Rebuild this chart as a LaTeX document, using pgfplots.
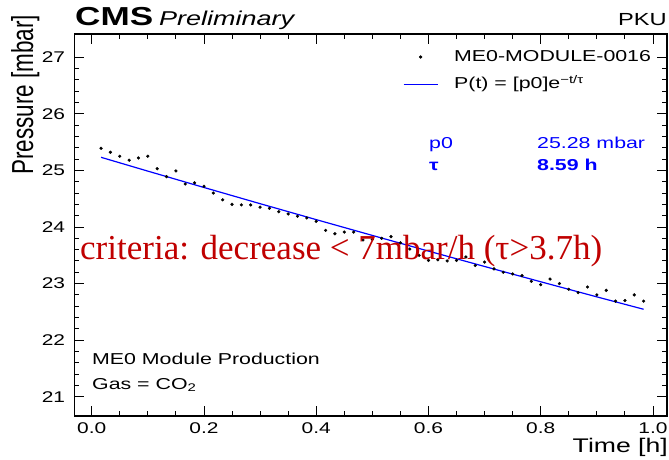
\documentclass[border=0pt]{standalone}
\usepackage{pgfplots}
\pgfplotsset{compat=1.18}
\usepackage{pgfplotstable}
\usepackage{fontspec}
\setmainfont{Liberation Sans}
\newfontfamily\serifred{Liberation Serif}
\usepackage{graphicx}
\definecolor{rootblue}{RGB}{0,0,255}
\definecolor{pptred}{RGB}{192,0,0}
\newcommand\fs[1]{\fontsize{#1pt}{#1pt}\selectfont}
\newcommand\sx[1]{\scalebox{1.35}[1]{#1}}

\pgfplotstableread{
t p
0.0167 25.39
0.0333 25.32
0.0500 25.25
0.0667 25.18
0.0833 25.22
0.1000 25.25
0.1167 25.03
0.1333 24.89
0.1500 24.99
0.1667 24.76
0.1833 24.78
0.2000 24.72
0.2167 24.60
0.2333 24.48
0.2500 24.40
0.2667 24.39
0.2833 24.39
0.3000 24.35
0.3167 24.33
0.3333 24.27
0.3500 24.23
0.3667 24.19
0.3833 24.16
0.4000 24.10
0.4167 23.94
0.4333 23.88
0.4500 23.91
0.4667 23.91
0.4833 23.77
0.5000 23.78
0.5167 23.80
0.5333 23.83
0.5500 23.72
0.5667 23.61
0.5833 23.50
0.6000 23.41
0.6167 23.42
0.6333 23.40
0.6500 23.41
0.6667 23.47
0.6833 23.32
0.7000 23.38
0.7167 23.26
0.7333 23.20
0.7500 23.17
0.7667 23.14
0.7833 23.04
0.8000 22.98
0.8167 23.08
0.8333 23.00
0.8500 22.90
0.8667 22.84
0.8833 22.94
0.9000 22.80
0.9167 22.88
0.9333 22.69
0.9500 22.70
0.9667 22.80
0.9833 22.69
}\datatable

\pgfplotstableread{
t p
0.0167 25.231
0.1000 24.987
0.2000 24.698
0.3000 24.412
0.4000 24.130
0.5000 23.851
0.6000 23.574
0.7000 23.302
0.8000 23.032
0.9000 22.765
0.9833 22.546
}\fittable

\begin{document}
\begin{tikzpicture}
\useasboundingbox (0,0) rectangle (669pt,459pt);
\begin{axis}[
  at={(74.3pt,43pt)}, anchor=south west,
  scale only axis, width=592.7pt, height=382pt,
  xmin=-0.031, xmax=1.025, ymin=20.66, ymax=27.41,
  xtick={0,0.2,0.4,0.6,0.8,1.0}, minor x tick num=3,
  ytick={21,22,...,27}, minor y tick num=4,
  tick align=inside,
  major tick length=10pt, minor tick length=5pt,
  axis line style={line width=1.5pt},
  every tick/.append style={black, line width=0.9pt},
  xticklabel={\sx{\pgfmathprintnumber[fixed,fixed zerofill,precision=1,assume math mode=true]{\tick}}},
  yticklabel={\sx{\pgfmathprintnumber[assume math mode=true]{\tick}}},
  xticklabel style={font=\fs{15.5}, inner sep=0pt, anchor=north, yshift=-6pt},
  yticklabel style={font=\fs{15.5}, inner sep=0pt, anchor=east, xshift=-9pt},
  legend style={at={(axis description cs:0.5546,0.9607)}, anchor=north west,
    draw=none, fill=none, inner sep=0pt, outer sep=0pt,
    row sep=11.6pt, column sep=16pt, font=\fs{15.8},
    nodes={inner sep=0pt, text height=12pt, text depth=4pt}},
  legend cell align=left,
]
\addplot[only marks, mark=*, mark size=1.4pt, black,
  legend image code/.code={\draw[black, fill=black, mark=*, mark size=1.4pt] plot coordinates {(17pt,0pt)};}]
  table[x=t,y=p] {\datatable};
\addplot[rootblue, line width=1.2pt, no marks,
  legend image code/.code={\draw[rootblue, line width=1.2pt] (0pt,0pt) -- (34pt,0pt);}]
  table[x=t,y=p] {\fittable};
\legend{\sx{ME0-MODULE-0016}, \sx{P(t) = [p0]e\textsuperscript{−t/τ}}}
\end{axis}
\begin{scope}[every node/.style={inner sep=0pt}]
\node[anchor=base west, font=\fs{15.8}] at (92pt,95pt) {\sx{ME0 Module Production}};
\node[anchor=base west, font=\fs{15.8}] at (92pt,70pt) {\sx{Gas = CO\textsubscript{2}}};
\node[anchor=base west, font=\fs{15.8}, text=rootblue] at (429pt,311pt) {\sx{p0}};
\node[anchor=base west, font=\fs{15.8}, text=rootblue] at (537pt,311pt) {\sx{25.28 mbar}};
\node[anchor=base west, font=\fs{15.8}\bfseries, text=rootblue] at (429pt,289pt) {\sx{τ}};
\node[anchor=base west, font=\fs{15.8}\bfseries, text=rootblue] at (537pt,289pt) {\sx{8.59 h}};
\node[anchor=base west, font=\fs{26}\bfseries] at (75pt,433pt) {\sx{CMS}};
\node[anchor=base west, font=\fs{20}\itshape] at (159pt,433pt) {\sx{Preliminary}};
\node[anchor=base east, font=\fs{17.5}] at (667pt,433pt) {\sx{PKU}};
\node[anchor=base east, font=\fs{19.7}] at (668pt,7pt) {\sx{Time [h]}};
\node[anchor=base west, rotate=90, font=\fs{22.5}] at (33pt,284pt) {\scalebox{1}[1.35]{Pressure [mbar]}};
\node[anchor=base west, font=\serifred\fs{35}, text=pptred] at (80pt,200pt) {criteria: decrease < 7mbar/h (τ>3.7h)};
\end{scope}
\end{tikzpicture}
\end{document}
